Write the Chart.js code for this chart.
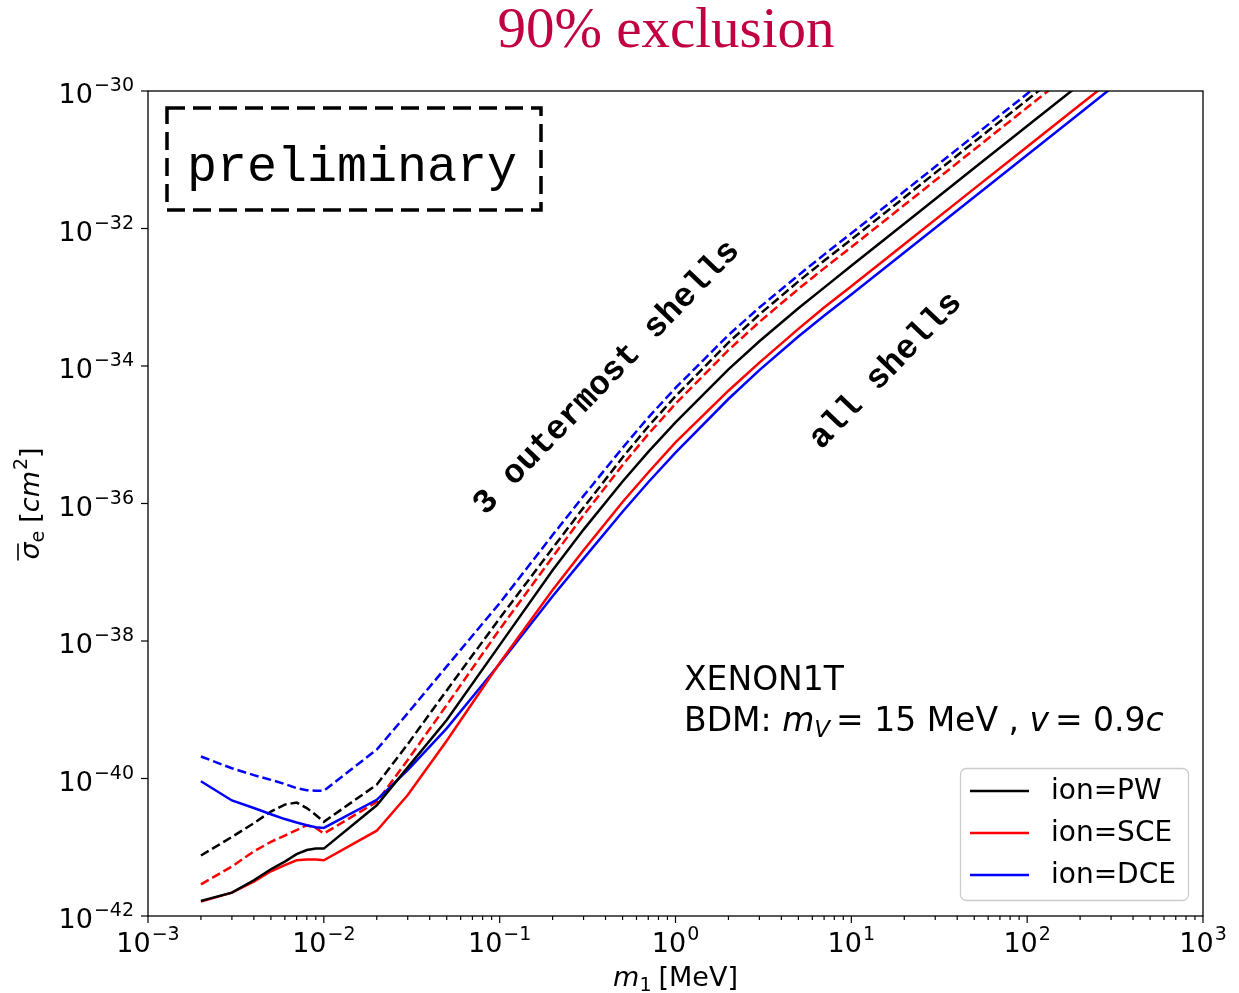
<!DOCTYPE html>
<html>
<head>
<meta charset="utf-8">
<title>90% exclusion</title>
<script src="https://cdn.jsdelivr.net/npm/chart.js@4"></script>
<style>
    body { margin: 0; background: #fff; }
    #wrap { width: 1239px; height: 993px; }
</style>
</head>
<body>
<div id="wrap"><canvas id="limitChart" width="1239" height="993"></canvas></div>
<script>
// DM mass grid [MeV]
const masses = [2e-3, 3e-3, 4e-3, 5e-3, 6e-3, 7e-3, 8e-3, 9e-3, 1e-2, 2e-2, 3e-2, 5e-2,
    0.1, 0.2, 0.3, 0.5, 0.7, 1, 2, 3, 5, 7, 10, 20, 50, 100, 200, 500];

// sigma_e limits [cm^2], all shells
const pwAll = [1.66e-42, 2.19e-42, 3.31e-42, 4.79e-42, 6.17e-42, 7.94e-42, 9.12e-42, 9.55e-42, 9.55e-42,
    4.07e-41, 1.45e-40, 7.08e-40,
    8.71e-39, 1.07e-37, 4.17e-37, 2.09e-36, 5.62e-36, 1.51e-35, 8.91e-35, 2.29e-34, 6.92e-34, 1.38e-33,
    2.88e-33, 1.17e-32, 7.59e-32, 3.09e-31, 1.26e-30, 8.13e-30];
const sceAll = [1.62e-42, 2.19e-42, 3.16e-42, 4.47e-42, 5.50e-42, 6.46e-42, 6.61e-42, 6.61e-42, 6.46e-42,
    1.74e-41, 5.75e-41, 3.55e-40,
    4.79e-39, 5.50e-38, 2.09e-37, 1.05e-36, 2.82e-36, 7.76e-36, 4.37e-35, 1.12e-34, 3.47e-34, 7.08e-34,
    1.45e-33, 5.89e-33, 3.80e-32, 1.55e-31, 6.31e-31, 3.98e-30];
const dceAll = [9.12e-41, 4.79e-41, 3.72e-41, 3.02e-41, 2.57e-41, 2.29e-41, 2.09e-41, 1.95e-41, 1.91e-41,
    4.90e-41, 1.32e-40, 5.37e-40,
    4.68e-39, 4.47e-38, 1.58e-37, 7.59e-37, 2.04e-36, 5.50e-36, 3.31e-35, 8.71e-35, 2.69e-34, 5.37e-34,
    1.10e-33, 4.47e-33, 2.88e-32, 1.17e-31, 4.79e-31, 3.09e-30];

// sigma_e limits [cm^2], 3 outermost shells
const pwOuter = [7.59e-42, 1.41e-41, 2.24e-41, 3.31e-41, 4.17e-41, 4.47e-41, 3.72e-41, 2.95e-41, 2.34e-41,
    8.13e-41, 3.16e-40, 1.91e-39,
    2.14e-38, 2.24e-37, 8.71e-37, 4.68e-36, 1.32e-35, 3.63e-35, 2.19e-34, 5.62e-34, 1.70e-33, 3.39e-33,
    6.92e-33, 2.82e-32, 1.82e-31, 7.41e-31, 3.02e-30, 1.95e-29];
const sceOuter = [2.88e-42, 5.25e-42, 8.71e-42, 1.20e-41, 1.48e-41, 1.78e-41, 2.09e-41, 1.91e-41, 1.58e-41,
    4.57e-41, 1.86e-40, 1.17e-39,
    1.48e-38, 1.66e-37, 6.76e-37, 3.63e-36, 1.02e-35, 2.82e-35, 1.70e-34, 4.37e-34, 1.32e-33, 2.63e-33,
    5.37e-33, 2.19e-32, 1.41e-31, 5.75e-31, 2.34e-30, 1.51e-29];
const dceOuter = [2.09e-40, 1.41e-40, 1.12e-40, 9.55e-41, 8.32e-41, 7.24e-41, 6.76e-41, 6.61e-41, 6.61e-41,
    2.63e-40, 8.91e-40, 4.27e-39,
    3.55e-38, 3.47e-37, 1.29e-36, 6.46e-36, 1.78e-35, 4.79e-35, 2.82e-34, 7.08e-34, 2.09e-33, 4.17e-33,
    8.51e-33, 3.47e-32, 2.24e-31, 9.12e-31, 3.72e-30, 2.40e-29];

// tick decades
const xTickExps = [-3, -2, -1, 0, 1, 2, 3];
const yTickExps = [-42, -40, -38, -36, -34, -32, -30];

const legendLabels = ['ion=PW', 'ion=SCE', 'ion=DCE'];

function toPoints(ys) {
    return masses.map((m, i) => ({ x: m, y: ys[i] }));
}

function makeSet(label, ys, color, dashed) {
    return {
        label: label,
        data: toPoints(ys),
        borderColor: color,
        backgroundColor: color,
        borderWidth: 2.5,
        borderDash: dashed ? [9, 4] : [],
        pointRadius: 0,
        tension: 0,
        fill: false,
        inLegend: !dashed
    };
}

const SANS = '"DejaVu Sans", sans-serif';
const SANS_IT = 'italic 27px "DejaVu Sans", sans-serif';

// draw a run of text pieces, each with its own font and vertical shift
function drawRuns(ctx, runs, x, y, align) {
    let total = 0;
    runs.forEach(r => { ctx.font = r.font; r.w = ctx.measureText(r.t).width; total += r.w + (r.gap || 0); });
    let cx = align === 'center' ? x - total / 2 : align === 'right' ? x - total : x;
    ctx.textAlign = 'left';
    ctx.textBaseline = 'alphabetic';
    const pos = [];
    runs.forEach(r => {
        ctx.font = r.font;
        ctx.fillText(r.t, cx, y + (r.dy || 0));
        pos.push({ x: cx, w: r.w });
        cx += r.w + (r.gap || 0);
    });
    return pos;
}

function powRuns(exp) {
    const e = exp < 0 ? '\u2212' + Math.abs(exp) : String(exp);
    return [
        { t: '10', font: '27px ' + SANS, gap: 1 },
        { t: e, font: '19px ' + SANS, dy: -12 }
    ];
}

const decorPlugin = {
    id: 'decor',
    afterDraw(chart) {
        const ctx = chart.ctx;
        const xs = chart.scales.x;
        const ys = chart.scales.y;
        const a = chart.chartArea;
        ctx.save();
        ctx.fillStyle = '#000';
        ctx.strokeStyle = '#000';

        // frame
        ctx.lineWidth = 1.3;
        ctx.setLineDash([]);
        ctx.strokeRect(a.left, a.top, a.right - a.left, a.bottom - a.top);

        // x ticks (major + minor)
        ctx.lineWidth = 1.2;
        xTickExps.forEach(e => {
            const px = xs.getPixelForValue(Math.pow(10, e));
            ctx.beginPath();
            ctx.moveTo(px, a.bottom);
            ctx.lineTo(px, a.bottom + 7);
            ctx.stroke();
            drawRuns(ctx, powRuns(e), px, a.bottom + 36, 'center');
            if (e < 3) {
                for (let k = 2; k <= 9; k++) {
                    const mx = xs.getPixelForValue(k * Math.pow(10, e));
                    ctx.beginPath();
                    ctx.moveTo(mx, a.bottom);
                    ctx.lineTo(mx, a.bottom + 4);
                    ctx.stroke();
                }
            }
        });

        // y ticks
        yTickExps.forEach(e => {
            const py = ys.getPixelForValue(Math.pow(10, e));
            ctx.beginPath();
            ctx.moveTo(a.left, py);
            ctx.lineTo(a.left - 7, py);
            ctx.stroke();
            drawRuns(ctx, powRuns(e), a.left - 14, py + 12, 'right');
        });

        // x axis title
        drawRuns(ctx, [
            { t: 'm', font: SANS_IT },
            { t: '1', font: '19px ' + SANS, dy: 5, gap: 7 },
            { t: '[MeV]', font: '27px ' + SANS }
        ], (a.left + a.right) / 2, 986, 'center');

        // y axis title
        ctx.save();
        ctx.translate(39, (a.top + a.bottom) / 2);
        ctx.rotate(-Math.PI / 2);
        const yp = drawRuns(ctx, [
            { t: '\u03c3', font: SANS_IT },
            { t: 'e', font: '19px ' + SANS, dy: 5, gap: 8 },
            { t: '[', font: '27px ' + SANS },
            { t: 'cm', font: SANS_IT, gap: 1 },
            { t: '2', font: '19px ' + SANS, dy: -12 },
            { t: ']', font: '27px ' + SANS }
        ], 0, 0, 'center');
        ctx.lineWidth = 1.6;
        ctx.beginPath();
        ctx.moveTo(yp[0].x - 1, -21);
        ctx.lineTo(yp[0].x + yp[0].w - 1, -21);
        ctx.stroke();
        ctx.restore();

        // title
        ctx.fillStyle = 'rgb(192, 0, 64)';
        ctx.font = '57px "Liberation Serif", serif';
        ctx.textAlign = 'center';
        ctx.fillText('90% exclusion', 666, 47);
        ctx.fillStyle = '#000';

        // preliminary box
        ctx.lineWidth = 3.5;
        ctx.setLineDash([18, 8]);
        ctx.strokeRect(167, 108, 374, 102);
        ctx.setLineDash([]);
        ctx.font = '50px "Liberation Mono", monospace';
        ctx.textAlign = 'left';
        ctx.fillText('preliminary', 187, 181);

        // rotated shell labels
        ctx.font = 'bold 34px "Liberation Mono", monospace';
        ctx.textAlign = 'center';
        ctx.textBaseline = 'middle';
        [['3 outermost shells', 607, 378], ['all shells', 886, 371]].forEach(([t, x, y]) => {
            ctx.save();
            ctx.translate(x, y);
            ctx.rotate(-46 * Math.PI / 180);
            ctx.fillText(t, 0, 0);
            ctx.restore();
        });

        // experiment note
        ctx.textBaseline = 'alphabetic';
        ctx.textAlign = 'left';
        ctx.font = '33px ' + SANS;
        ctx.fillText('XENON1T', 684, 690);
        drawRuns(ctx, [
            { t: 'BDM: ', font: '33px ' + SANS },
            { t: 'm', font: 'italic 33px ' + SANS },
            { t: 'V', font: 'italic 23px ' + SANS, dy: 6, gap: 6 },
            { t: '= 15 MeV , ', font: '33px ' + SANS },
            { t: 'v', font: 'italic 33px ' + SANS, gap: 6 },
            { t: '= 0.9', font: '33px ' + SANS },
            { t: 'c', font: 'italic 33px ' + SANS }
        ], 684, 731, 'left');

        // legend
        ctx.lineWidth = 1.3;
        ctx.strokeStyle = '#cccccc';
        ctx.fillStyle = 'rgba(255,255,255,0.85)';
        ctx.beginPath();
        ctx.roundRect(960.5, 768.5, 228, 132, 6);
        ctx.fill();
        ctx.stroke();
        const shown = chart.data.datasets.filter(d => d.inLegend);
        shown.forEach((d, i) => {
            const ly = 791 + i * 42;
            ctx.strokeStyle = d.borderColor;
            ctx.lineWidth = 2.5;
            ctx.beginPath();
            ctx.moveTo(970, ly);
            ctx.lineTo(1029, ly);
            ctx.stroke();
            ctx.fillStyle = '#000';
            ctx.font = '28px ' + SANS;
            ctx.textBaseline = 'middle';
            ctx.fillText(legendLabels[i], 1051, ly + 1);
        });
        ctx.restore();
    }
};

const chartCtx = document.getElementById('limitChart').getContext('2d');
const limitChart = new Chart(chartCtx, {
    type: 'line',
    data: {
        datasets: [
            makeSet('ion=PW', pwAll, '#000000', false),
            makeSet('ion=SCE', sceAll, '#ff0000', false),
            makeSet('ion=DCE', dceAll, '#0000ff', false),
            makeSet('ion=PW (3 outermost)', pwOuter, '#000000', true),
            makeSet('ion=SCE (3 outermost)', sceOuter, '#ff0000', true),
            makeSet('ion=DCE (3 outermost)', dceOuter, '#0000ff', true)
        ]
    },
    options: {
        responsive: false,
        animation: false,
        layout: { padding: { left: 148, top: 91, right: 36, bottom: 77 } },
        scales: {
            x: { type: 'logarithmic', min: 1e-3, max: 1e3, display: false },
            y: { type: 'logarithmic', min: 1e-42, max: 1e-30, display: false }
        },
        plugins: {
            legend: { display: false },
            tooltip: { enabled: false }
        }
    },
    plugins: [decorPlugin]
});
</script>
</body>
</html>
